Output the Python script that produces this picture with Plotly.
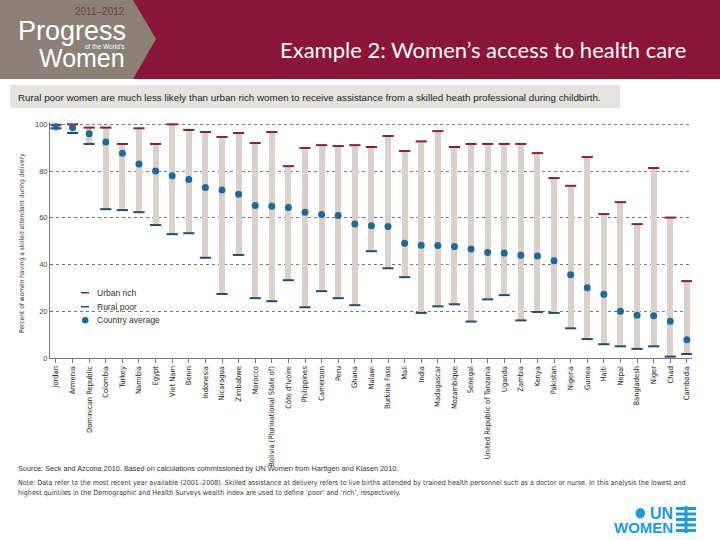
import plotly.graph_objects as go

countries = ["Jordan", "Armenia", "Dominican Republic", "Colombia", "Turkey", "Namibia", "Egypt",
             "Viet Nam", "Benin", "Indonesia", "Nicaragua", "Zimbabwe", "Morocco",
             "Bolivia (Plurinational State of)", "Côte d'Ivoire", "Philippines", "Cameroon", "Peru",
             "Ghana", "Malawi", "Burkina Faso", "Mali", "India", "Madagascar", "Mozambique", "Senegal",
             "United Republic of Tanzania", "Uganda", "Zambia", "Kenya", "Pakistan", "Nigeria",
             "Guinea", "Haiti", "Nepal", "Bangladesh", "Niger", "Chad", "Cambodia"]

urban_rich = [99.8, 100, 98.6, 98.6, 91.6, 98.3, 91.6, 100, 97.6, 96.7, 94.6, 96.3, 92.0,
              96.7, 82.1, 89.9, 91.1, 90.7, 91.1, 90.3, 95.0, 88.6, 92.7, 97.1, 90.3, 91.6,
              91.6, 91.6, 91.6, 87.7, 77.0, 73.7, 86.0, 61.6, 66.7, 57.3, 81.3, 60.1, 32.9]

rural_poor = [98.3, 96.3, 91.6, 63.7, 63.3, 62.4, 56.9, 53.0, 53.4, 42.9, 27.4, 44.1, 25.6,
              24.3, 33.3, 21.7, 28.6, 25.6, 22.6, 45.7, 38.4, 34.6, 19.3, 22.1, 23.0, 15.6,
              25.1, 26.9, 16.1, 19.7, 19.3, 12.7, 8.1, 5.9, 5.0, 3.9, 5.0, 0.6, 1.7]

country_average = [99.0, 98.6, 96.0, 92.4, 87.6, 83.0, 80.0, 78.0, 76.4, 73.0, 71.9, 70.1, 65.3,
                   64.9, 64.4, 62.4, 61.4, 61.0, 57.4, 56.6, 56.3, 49.1, 48.3, 48.1, 47.7, 46.7,
                   45.1, 44.9, 44.0, 43.6, 41.6, 35.6, 30.1, 27.3, 20.0, 18.3, 18.1, 15.7, 7.8]

y_ticks = [0, 20, 40, 60, 80, 100]
legend_labels = ["Urban rich", "Rural poor", "Country average"]

W, H = 720, 540
ML, MR, MT, MB = 50, 28, 122, 182
PW, PH = W - ML - MR, H - MT - MB


def px(x):
    return (x - ML) / PW


def py(y):
    return (H - MB - y) / PH


MAROON = "#8a1538"
TAUPE = "#8b8275"
BAR = "#d9d1cc"
URBAN = "#8c1d3f"
RURAL = "#1f4f6d"
AVG = "#1b6a9b"
UNBLUE = "#1e9ad6"
NARROW = "Liberation Sans Narrow, Arial Narrow, DejaVu Sans Condensed, sans-serif"
SANS = "Liberation Sans, Arial, sans-serif"

fig = go.Figure()
fig.add_trace(go.Bar(x=countries, y=[u - r for u, r in zip(urban_rich, rural_poor)], base=rural_poor,
                     width=0.36, marker=dict(color=BAR, line=dict(width=0)), showlegend=False,
                     hoverinfo="skip"))
fig.add_trace(go.Scatter(x=countries, y=urban_rich, mode="markers", name=legend_labels[0],
                         showlegend=False,
                         marker=dict(symbol="line-ew", size=8, line=dict(color=URBAN, width=2))))
fig.add_trace(go.Scatter(x=countries, y=rural_poor, mode="markers", name=legend_labels[1],
                         showlegend=False,
                         marker=dict(symbol="line-ew", size=8, line=dict(color=RURAL, width=2))))
fig.add_trace(go.Scatter(x=countries, y=country_average, mode="markers", name=legend_labels[2],
                         showlegend=False,
                         marker=dict(symbol="circle", size=7, color=AVG, line=dict(width=0))))

shapes = [
    dict(type="rect", x0=px(0), x1=px(W), y0=py(0), y1=py(79),
         fillcolor=MAROON, line=dict(width=0), layer="below"),
    dict(type="path",
         path=f"M {px(0)},{py(0)} L {px(133)},{py(0)} L {px(156)},{py(39)} L {px(133)},{py(79)} L {px(0)},{py(79)} Z",
         fillcolor=TAUPE, line=dict(width=0), layer="below"),
    dict(type="rect", x0=px(10), x1=px(620), y0=py(85), y1=py(108),
         fillcolor="#e5e3e0", line=dict(width=0), layer="below"),
    # legend keys
    dict(type="line", x0=px(81), x1=px(89), y0=py(292.7), y1=py(292.7), line=dict(color=URBAN, width=1.5)),
    dict(type="line", x0=px(81), x1=px(89), y0=py(306.7), y1=py(306.7), line=dict(color=RURAL, width=1.5)),
    dict(type="circle", x0=px(82), x1=px(88.5), y0=py(317), y1=py(323.5),
         fillcolor=AVG, line=dict(width=0)),
    # UN Women emblem
    dict(type="circle", x0=px(635.5), x1=px(645), y0=py(508), y1=py(518.5),
         fillcolor=UNBLUE, line=dict(width=0)),
    dict(type="rect", x0=px(684.5), x1=px(687.5), y0=py(506), y1=py(533),
         fillcolor=UNBLUE, line=dict(width=0)),
]
for yy in [507, 512.5, 518, 523.5, 529]:
    shapes.append(dict(type="rect", x0=px(676), x1=px(696),
                       y0=py(yy), y1=py(yy + 3), fillcolor=UNBLUE, line=dict(width=0)))
for s in shapes:
    s.update(xref="paper", yref="paper")

annotations = [
    dict(text="2011–2012", x=px(127), y=py(12), xanchor="right", yanchor="middle",
         font=dict(family=SANS, size=10, color="#6e3a45")),
    dict(text="Progress", x=px(128), y=py(31), xanchor="right", yanchor="middle",
         font=dict(family=SANS, size=27, color="white")),
    dict(text="of the World's", x=px(127), y=py(46), xanchor="right", yanchor="middle",
         font=dict(family=SANS, size=6.5, color="white")),
    dict(text="Women", x=px(127), y=py(58), xanchor="right", yanchor="middle",
         font=dict(family=SANS, size=25, color="white")),
    dict(text="Example 2: Women’s access to health care", x=px(688), y=py(50), xanchor="right",
         yanchor="middle", font=dict(family="Lato, Open Sans, sans-serif", size=22, color="white")),
    dict(text="Rural poor women are much less likely than urban rich women to receive assistance from a skilled heath professional during childbirth.",
         x=px(16), y=py(97), xanchor="left", yanchor="middle",
         font=dict(family=SANS, size=9.8, color="#222222")),
    dict(text="Percent of women having a skilled attendant during delivery", x=px(22), y=py(243),
         xanchor="center", yanchor="middle", textangle=-90,
         font=dict(family=NARROW, size=6.6, color="#333333")),
    dict(text=legend_labels[0], x=px(95), y=py(292.7), xanchor="left", yanchor="middle",
         font=dict(family=SANS, size=8.5, color="#333333")),
    dict(text=legend_labels[1], x=px(95), y=py(306.7), xanchor="left", yanchor="middle",
         font=dict(family=SANS, size=8.5, color="#333333")),
    dict(text=legend_labels[2], x=px(95), y=py(320.3), xanchor="left", yanchor="middle",
         font=dict(family=SANS, size=8.5, color="#333333")),
    dict(text="Source: Seck and Azcona 2010. Based on calculations commissioned by UN Women from Harttgen and Klasen 2010.",
         x=px(16), y=py(468), xanchor="left", yanchor="middle",
         font=dict(family=SANS, size=7.3, color="#333333")),
    dict(text="Note: Data refer to the most recent year available (2001–2008). Skilled assistance at delivery refers to live births attended by trained health personnel such as a doctor or nurse. In this analysis the lowest and",
         x=px(16), y=py(482), xanchor="left", yanchor="middle",
         font=dict(family=NARROW, size=7.1, color="#333333")),
    dict(text="highest quintiles in the Demographic and Health Surveys wealth index are used to define ‘poor’ and ‘rich’, respectively.",
         x=px(16), y=py(492), xanchor="left", yanchor="middle",
         font=dict(family=NARROW, size=7.1, color="#333333")),
    dict(text="<b>UN</b>", x=px(674), y=py(513), xanchor="right", yanchor="middle", borderpad=0,
         font=dict(family=SANS, size=16, color=UNBLUE)),
    dict(text="<b>WOMEN</b>", x=px(674), y=py(527), xanchor="right", yanchor="middle", borderpad=0,
         font=dict(family=SANS, size=15, color=UNBLUE)),
]
for a in annotations:
    a.update(xref="paper", yref="paper", showarrow=False)

fig.update_layout(
    width=W, height=H, autosize=False,
    margin=dict(l=ML, r=MR, t=MT, b=MB),
    paper_bgcolor="white", plot_bgcolor="white",
    barmode="overlay", bargap=0,
    showlegend=False,
    xaxis=dict(range=[-0.36, 38.31], showgrid=False, showline=True, linecolor="#777777", linewidth=1,
               ticks="outside", ticklen=4, tickcolor="#777777", tickangle=-90,
               tickfont=dict(family=NARROW, size=7.5, color="#222222"),
               zeroline=False, fixedrange=True),
    yaxis=dict(range=[0, 101], tickvals=y_ticks, showgrid=True, gridcolor="#777777", griddash="dot",
               gridwidth=1, showline=True, linecolor="#777777", linewidth=1, ticks="",
               tickfont=dict(family=SANS, size=7.5, color="#444444"),
               zeroline=False, fixedrange=True),
    shapes=shapes,
    annotations=annotations,
)

fig.write_html("out.html", config={"displayModeBar": False},
               post_script="document.body.style.margin='0px';document.body.style.padding='0px';")
